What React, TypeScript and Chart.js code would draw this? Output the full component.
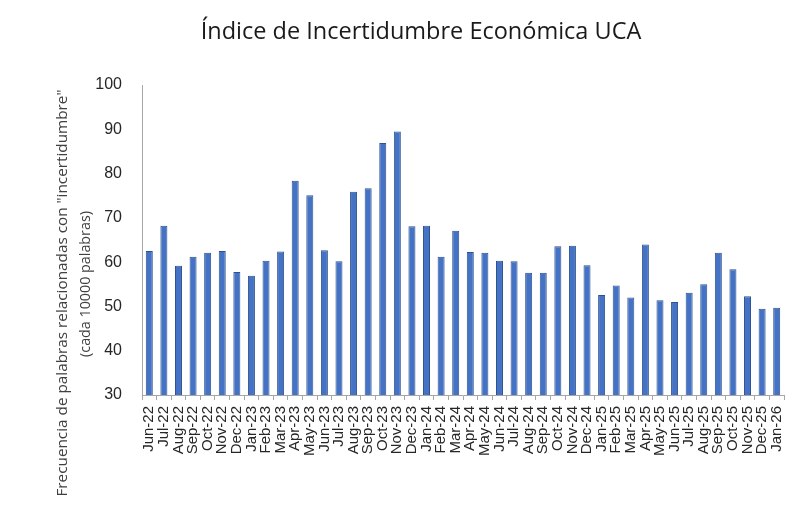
import React, { useEffect, useRef } from "react";
import { Chart, registerables } from "chart.js";
import type { ChartConfiguration, Plugin } from "chart.js";

Chart.register(...registerables);

const months = [
  "Jun-22", "Jul-22", "Aug-22", "Sep-22", "Oct-22", "Nov-22", "Dec-22",
  "Jan-23", "Feb-23", "Mar-23", "Apr-23", "May-23", "Jun-23", "Jul-23",
  "Aug-23", "Sep-23", "Oct-23", "Nov-23", "Dec-23",
  "Jan-24", "Feb-24", "Mar-24", "Apr-24", "May-24", "Jun-24", "Jul-24",
  "Aug-24", "Sep-24", "Oct-24", "Nov-24", "Dec-24",
  "Jan-25", "Feb-25", "Mar-25", "Apr-25", "May-25", "Jun-25", "Jul-25",
  "Aug-25", "Sep-25", "Oct-25", "Nov-25", "Dec-25",
  "Jan-26",
];

const indexValues = [
  62.5, 68.2, 59.2, 61.2, 62.1, 62.5, 57.8,
  56.9, 60.3, 62.4, 78.4, 75.1, 62.7, 60.2,
  75.9, 76.7, 86.9, 89.5, 68.1,
  68.2, 61.2, 67.1, 62.3, 62.1, 60.3, 60.2,
  57.6, 57.6, 63.6, 63.7, 59.3,
  52.6, 54.7, 52.0, 64.0, 51.4, 51.0, 53.1,
  55.0, 62.1, 58.4, 52.3, 49.5,
  49.7,
];

const yTicks = [30, 40, 50, 60, 70, 80, 90, 100];

const chartTitle = "Índice de Incertidumbre Económica UCA";
const yTitleLines = [
  'Frecuencia de palabras relacionadas con "incertidumbre"',
  "(cada 10000 palabras)",
];

const TITLE_FONT = '23.5px "Open Sans"';
const AXIS_TITLE_FONT_1 = '15.3px "Open Sans"';
const AXIS_TITLE_FONT_2 = '14.3px "Open Sans"';
const TICK_FAMILY = '"Liberation Sans", Arial, sans-serif';

// title and the two-line y title, placed like the spreadsheet original
const textPlugin: Plugin<"bar"> = {
  id: "ucaTexts",
  afterDraw(chart) {
    const ctx = chart.ctx;
    ctx.save();
    ctx.fillStyle = "#1a1a1a";
    ctx.textAlign = "center";
    ctx.textBaseline = "middle";
    ctx.font = TITLE_FONT;
    ctx.fillText(chartTitle, 421, 32);

    ctx.fillStyle = "#404040";
    ctx.rotate(-Math.PI / 2);
    ctx.font = AXIS_TITLE_FONT_1;
    ctx.fillText(yTitleLines[0], -293, 63);
    ctx.font = AXIS_TITLE_FONT_2;
    ctx.fillText(yTitleLines[1], -284, 86);
    ctx.restore();
  },
};

const App: React.FC = () => {
  const canvasRef = useRef<HTMLCanvasElement | null>(null);
  const chartRef = useRef<Chart<"bar", number[], string> | null>(null);

  useEffect(() => {
    document.body.style.margin = "0";
    let cancelled = false;

    const config: ChartConfiguration<"bar", number[], string> = {
      type: "bar",
      data: {
        labels: months,
        datasets: [
          {
            data: indexValues,
            backgroundColor: "#4472C4",
            borderColor: "#2F528F",
            borderWidth: 1,
            categoryPercentage: 1,
            barPercentage: 0.48,
          },
        ],
      },
      options: {
        animation: false,
        responsive: true,
        maintainAspectRatio: false,
        layout: { padding: { top: 85, right: 26, left: 0, bottom: 0 } },
        plugins: {
          legend: { display: false },
          title: { display: false },
          tooltip: { enabled: false },
        },
        scales: {
          x: {
            grid: {
              display: true,
              drawOnChartArea: false,
              drawTicks: true,
              tickLength: 5,
              color: "#a6a6a6",
            },
            border: { display: true, color: "#a6a6a6", width: 1 },
            ticks: {
              autoSkip: false,
              minRotation: 90,
              maxRotation: 90,
              padding: 6,
              color: "#262626",
              font: { family: TICK_FAMILY, size: 15 },
            },
            afterFit(scale) {
              scale.height = 131;
            },
          },
          y: {
            min: 30,
            max: 100,
            grid: { display: false, drawTicks: false },
            border: { display: true, color: "#a6a6a6", width: 1 },
            afterBuildTicks(scale) {
              scale.ticks = yTicks.map((v) => ({ value: v }));
            },
            ticks: {
              padding: 20,
              color: "#262626",
              font: { family: TICK_FAMILY, size: 16 },
            },
            afterFit(scale) {
              scale.width = 142;
            },
          },
        },
      },
      plugins: [textPlugin],
    };

    const fontsReady = Promise.all([
      document.fonts.load(TITLE_FONT, chartTitle),
      document.fonts.load(AXIS_TITLE_FONT_1, yTitleLines[0]),
      document.fonts.load('15px "Liberation Sans"', "Jun-22"),
    ]).catch(() => undefined);

    fontsReady.then(() => {
      const canvas = canvasRef.current;
      if (cancelled || !canvas) return;
      chartRef.current = new Chart(canvas, config);
    });

    return () => {
      cancelled = true;
      if (chartRef.current) {
        chartRef.current.destroy();
        chartRef.current = null;
      }
    };
  }, []);

  return (
    <div style={{ position: "relative", width: 810, height: 526, background: "#ffffff" }}>
      <canvas ref={canvasRef}></canvas>
    </div>
  );
};

export default App;
